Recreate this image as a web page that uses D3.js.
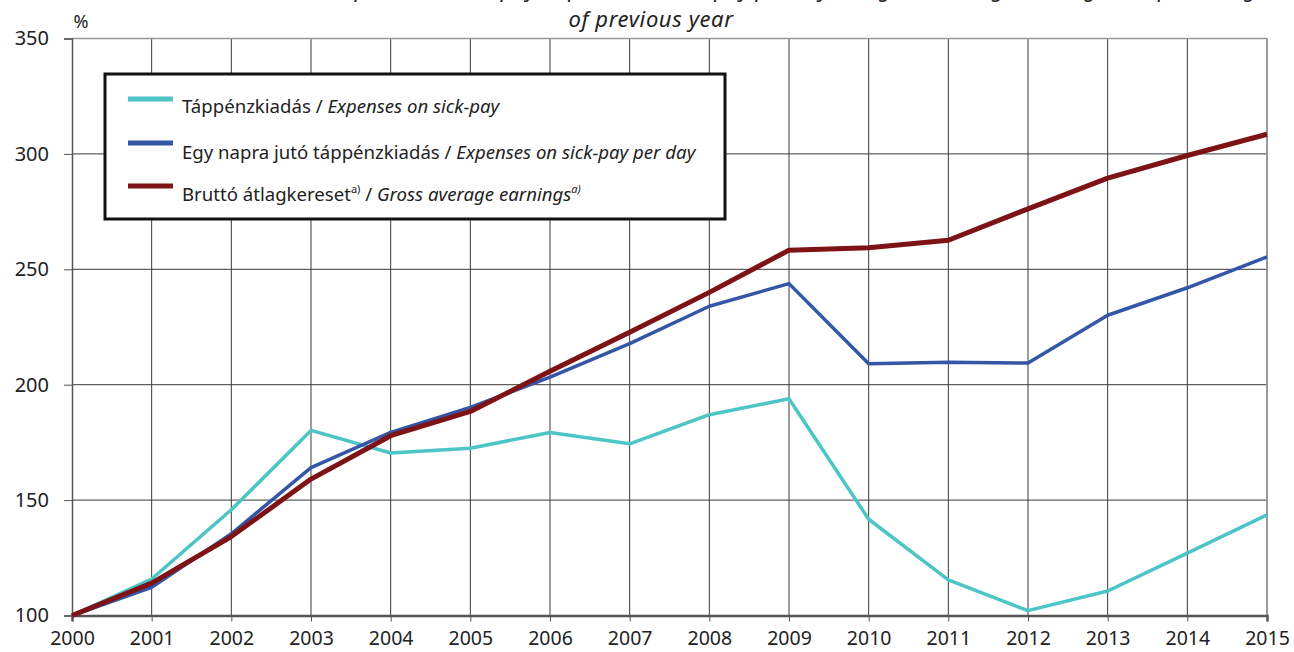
<!DOCTYPE html>
<html>
<head>
<meta charset="utf-8">
<script src="https://cdn.jsdelivr.net/npm/d3@7"></script>
<style>
  html, body { margin: 0; padding: 0; background: #fff; }
  svg { display: block; font-family: "Noto Sans", "Open Sans", sans-serif; }
</style>
</head>
<body>
<svg id="chart" width="1294" height="652"></svg>
<script>
const years = [2000,2001,2002,2003,2004,2005,2006,2007,2008,2009,2010,2011,2012,2013,2014,2015];
const sickPay = [100,115.8,145.8,180.2,170.4,172.5,179.3,174.4,187,193.9,141.7,115.4,102.1,110.6,127,143.6];
const sickPayPerDay = [100,112.2,135.4,164.1,179.3,190.2,203.3,217.8,234,243.8,209.1,209.7,209.4,230.1,242,255.4];
const grossEarnings = [100,114,134.2,159.1,177.9,188.4,205.8,222.7,240,258.3,259.3,262.6,276.2,289.5,299.3,308.5];
const yTicks = [100,150,200,250,300,350];
const seriesNames = [
  ["Táppénzkiadás / ", "Expenses on sick-pay", "", ""],
  ["Egy napra jutó táppénzkiadás / ", "Expenses on sick-pay per day", "", ""],
  ["Bruttó átlagkereset", "Gross average earnings", "a)", "a)"]
];
const titleLine1 = "Expenses on sick-pay, expenses on sick-pay per day and gross average earnings as a percentage";
const titleLine2 = "of previous year";

const svg = d3.select("#chart");
const L = 72, R = 1267, T = 38.5, B = 615.5;
const x = d3.scaleLinear().domain([2000, 2015]).range([L, R]);
const y = d3.scaleLinear().domain([100, 350]).range([B, T]);

// title (first line cut by the top edge, as in the reference)
svg.append("text").attr("x", 800).attr("y", -3).attr("text-anchor", "middle")
  .attr("font-style", "italic").attr("font-size", 22).attr("fill", "#222").text(titleLine1);
svg.append("text").attr("x", 651).attr("y", 27).attr("text-anchor", "middle")
  .attr("font-style", "italic").attr("font-size", 22).attr("letter-spacing", 0.6)
  .attr("fill", "#222").text(titleLine2);

// gridlines
const g = svg.append("g");
g.selectAll(".vg").data(years.slice(1, -1)).join("line")
  .attr("x1", d => x(d)).attr("x2", d => x(d)).attr("y1", T).attr("y2", B)
  .attr("stroke", "#3a3a3a").attr("stroke-width", 1);
g.selectAll(".hg").data(yTicks.slice(1, -1)).join("line")
  .attr("x1", L).attr("x2", R).attr("y1", d => y(d)).attr("y2", d => y(d))
  .attr("stroke", "#3a3a3a").attr("stroke-width", 1);
g.append("line").attr("x1", L).attr("x2", R).attr("y1", T).attr("y2", T).attr("stroke", "#999").attr("stroke-width", 1.5);
g.append("line").attr("x1", R).attr("x2", R).attr("y1", T).attr("y2", B).attr("stroke", "#999").attr("stroke-width", 2);

// axes
const yAxis = d3.axisLeft(y).tickValues(yTicks).tickSize(8).tickPadding(15);
const ya = svg.append("g").attr("transform", `translate(${L},0)`).call(yAxis);
ya.select(".domain").attr("stroke", "#555").attr("stroke-width", 1.5);
ya.selectAll(".tick line").attr("stroke", "#555");
ya.selectAll("text").attr("font-size", 20).attr("fill", "#222").attr("font-family", "Noto Sans");

const xAxis = d3.axisBottom(x).tickValues(years).tickFormat(d3.format("d")).tickSize(6).tickPadding(10);
const xa = svg.append("g").attr("transform", `translate(0,${B})`).call(xAxis);
xa.select(".domain").attr("stroke", "#555").attr("stroke-width", 2.5);
xa.selectAll(".tick line").attr("stroke", "#555");
xa.selectAll("text").attr("font-size", 19.5).attr("fill", "#222").attr("font-family", "Noto Sans");

svg.append("text").attr("x", 81).attr("y", 28).attr("text-anchor", "middle")
  .attr("font-size", 18).attr("fill", "#222").text("%");

// lines
const line = d3.line().x((d, i) => x(years[i])).y(d => y(d));
const series = [
  {vals: sickPay, color: "#4DC4C6", w: 3.5},
  {vals: sickPayPerDay, color: "#3356A6", w: 3.5},
  {vals: grossEarnings, color: "#7E1315", w: 5}
];
svg.selectAll(".series").data(series).join("path")
  .attr("fill", "none").attr("stroke", d => d.color).attr("stroke-width", d => d.w)
  .attr("stroke-linejoin", "round").attr("d", d => line(d.vals));

// legend
const lg = svg.append("g");
lg.append("rect").attr("x", 105).attr("y", 74).attr("width", 620).attr("height", 145)
  .attr("fill", "#fff").attr("stroke", "#111").attr("stroke-width", 3);
const swY = [99, 143, 186];
const txY = [113, 159, 201];
series.forEach((s, i) => {
  lg.append("line").attr("x1", 128).attr("x2", 173).attr("y1", swY[i]).attr("y2", swY[i])
    .attr("stroke", s.color).attr("stroke-width", 5);
  const t = lg.append("text").attr("x", 182).attr("y", txY[i]).attr("font-size", 18.6).attr("fill", "#222");
  const n = seriesNames[i];
  t.append("tspan").text(n[0]);
  if (n[2]) {
    t.append("tspan").attr("font-size", 11).attr("dy", -8).text(n[2]);
    t.append("tspan").attr("dy", 8).text(" / ");
  }
  t.append("tspan").attr("font-style", "italic").text(n[1]);
  if (n[3]) {
    t.append("tspan").attr("font-size", 11).attr("font-style", "italic").attr("dy", -8).text(n[3]);
  }
});
</script>
</body>
</html>
